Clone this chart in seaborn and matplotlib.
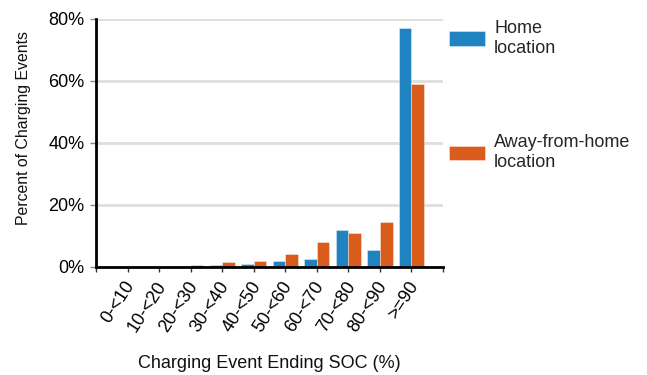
import matplotlib
matplotlib.use("Agg")
import matplotlib.pyplot as plt
from matplotlib.ticker import PercentFormatter
from matplotlib.transforms import ScaledTranslation
import pandas as pd
import seaborn as sns

# Share of charging events by ending state of charge
soc_bins = ["0-<10", "10-<20", "20-<30", "30-<40", "40-<50",
            "50-<60", "60-<70", "70-<80", "80-<90", ">=90"]
home_pct = [0.0, 0.0, 0.0, 0.5, 0.9, 1.8, 2.5, 11.7, 5.4, 77.0]
away_pct = [0.0, 0.0, 0.5, 1.4, 1.8, 4.0, 7.9, 10.8, 14.4, 58.8]
series_names = ["Home\nlocation", "Away-from-home\nlocation"]
series_colors = ["#1f83c1", "#d95c1a"]
y_ticks = [0, 20, 40, 60, 80]

df = pd.DataFrame({
    "soc": soc_bins * 2,
    "pct": home_pct + away_pct,
    "where": [series_names[0]] * len(soc_bins) + [series_names[1]] * len(soc_bins),
})

sns.set_theme(style="white")
plt.rcParams["font.family"] = ["Liberation Sans", "DejaVu Sans"]

fig = plt.figure(figsize=(6.47, 3.75), dpi=100)
ax = fig.add_axes([96 / 647, 1 - 266.7 / 375, (443 - 96) / 647, (266.7 - 18.7) / 375])

sns.barplot(data=df, x="soc", y="pct", hue="where", order=soc_bins,
            hue_order=series_names, palette=dict(zip(series_names, series_colors)),
            width=0.8, edgecolor=(1, 1, 1, 0.45), linewidth=0.6,
            saturation=1, ax=ax, zorder=3)

ax.set_ylim(0, 80)
ax.set_yticks(y_ticks)
ax.yaxis.set_major_formatter(PercentFormatter(decimals=0))
ax.tick_params(axis="y", labelsize=13, length=4, width=1, color="#888888",
               left=True, pad=4.2, labelcolor="black")
ax.tick_params(axis="x", length=3.6, width=1, color="#333333", bottom=True,
               pad=8, labelcolor="black")

# category axis with an empty slot at either end
ax.set_xlim(-1, len(soc_bins))
ax.set_xticks(range(-1, len(soc_bins) + 1))
ax.set_xticklabels([""] + soc_bins + [""], rotation=57, ha="right", va="center",
                   rotation_mode="anchor", fontsize=13)
shift = ScaledTranslation(3.5 / 100, 0, fig.dpi_scale_trans)
for lbl in ax.get_xticklabels():
    lbl.set_transform(lbl.get_transform() + shift)

ax.set_axisbelow(True)
ax.yaxis.grid(True, color="#dedede", linewidth=2)
ax.xaxis.grid(False)

for side in ("top", "right"):
    ax.spines[side].set_visible(False)
for side in ("left", "bottom"):
    ax.spines[side].set_color("black")
    ax.spines[side].set_linewidth(2)
    ax.spines[side].set_zorder(5)

ax.set_xlabel("Charging Event Ending SOC (%)", fontsize=13, color="#111111")
ax.set_ylabel("Percent of Charging Events", fontsize=11.4, color="#111111")
ax.yaxis.set_label_coords(-0.187, 0.56)
ax.xaxis.set_label_coords(0.5, -0.356)

handles, labels = ax.get_legend_handles_labels()
ax.legend(handles, labels, loc="upper left", bbox_to_anchor=(449 / 647, 1 - 20 / 375),
          bbox_transform=fig.transFigure, frameon=False, fontsize=13,
          handlelength=2.0, handleheight=0.83, handletextpad=0.5,
          labelspacing=4.3, borderpad=0, borderaxespad=0)

fig.savefig("out.png", dpi=100)
